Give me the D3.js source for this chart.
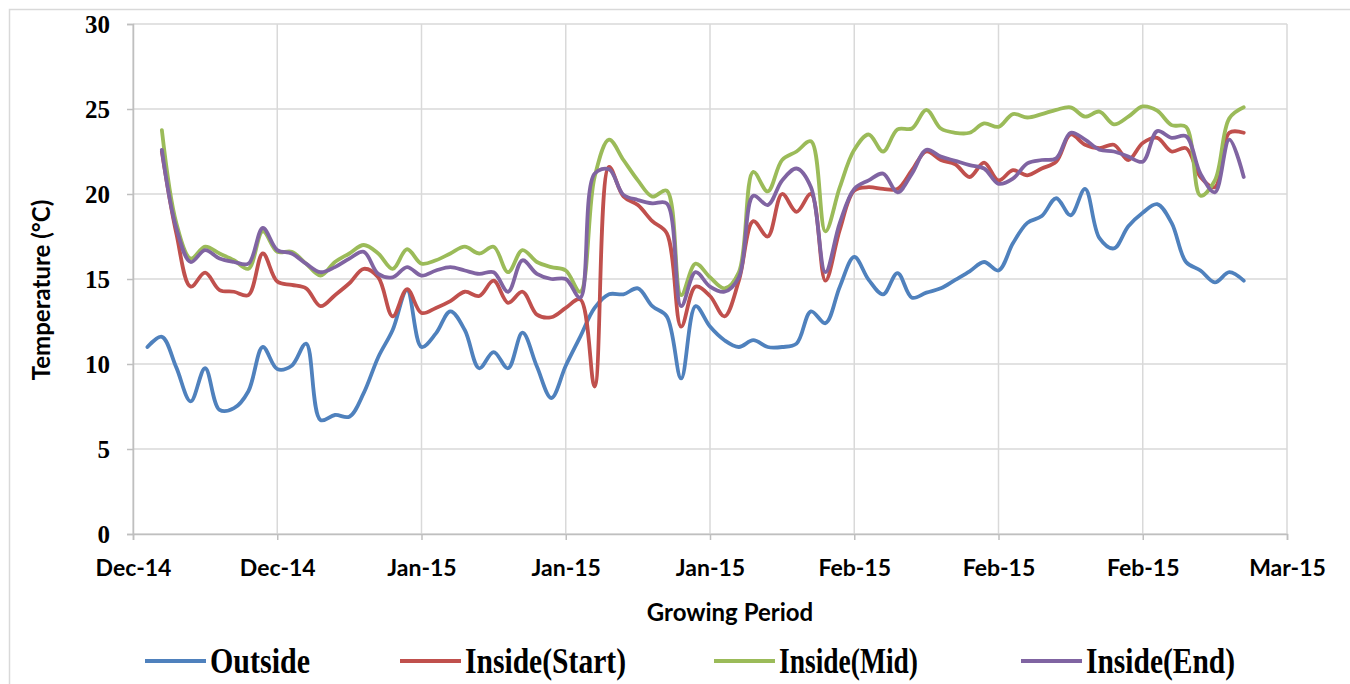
<!DOCTYPE html>
<html>
<head>
<meta charset="utf-8">
<script src="https://cdn.jsdelivr.net/npm/d3@7"></script>
<style>
  body { margin: 0; background: #fff; }
  .tickY { font-family: "Liberation Serif", serif; font-weight: bold; font-size: 25px; }
  .tickX { font-family: Lato, sans-serif; font-weight: bold; font-size: 23px; }
  .title { font-family: Lato, sans-serif; font-weight: bold; font-size: 24px; }
  .legendText { font-family: "Liberation Serif", serif; font-weight: bold; font-size: 35px; }
</style>
</head>
<body>
<svg></svg>
<script>
const w = 1350;
const h = 684;
const margin = { top: 24, right: 63, bottom: 150, left: 133 };

// one reading per day, first day is 21 Dec 2014
const startDate = new Date(2014, 11, 21);
const outside = [11.0, 11.6, 9.8, 7.8, 9.75, 7.3, 7.4, 8.4, 11.0, 9.7, 9.9, 11.2, 6.7, 7.0, 6.9, 8.3,
  10.4, 12.0, 14.35, 11.0, 11.8, 13.1, 12.0, 9.75, 10.7, 9.75, 11.84, 9.85, 8.0, 9.9, 11.6, 13.3,
  14.1, 14.1, 14.45, 13.4, 12.8, 9.15, 13.4, 12.2, 11.4, 11.0, 11.4, 11.0, 11.0, 11.2, 13.1, 12.4,
  14.55, 16.3, 14.95, 14.1, 15.35, 13.9, 14.2, 14.45, 14.95, 15.45, 16.0, 15.5, 17.1, 18.3, 18.7,
  19.75, 18.75, 20.3, 17.4, 16.8, 18.1, 18.9, 19.4, 18.3, 16.0, 15.5, 14.8, 15.4, 14.9];
const insideStart = [null, 22.5, 17.7, 14.55, 15.37, 14.35, 14.25, 14.05, 16.5, 14.85, 14.65, 14.45,
  13.4, 14.05, 14.75, 15.6, 15.1, 12.8, 14.4, 13.0, 13.3, 13.7, 14.25, 14.0, 14.9, 13.6, 14.25, 12.9,
  12.75, 13.3, 13.8, 8.67, 21.6, 19.85, 19.35, 18.4, 17.7, 12.2, 14.55, 14.0, 12.8, 14.9, 18.4, 17.5,
  20.0, 18.95, 20.0, 14.9, 17.9, 20.2, 20.4, 20.3, 20.3, 21.4, 22.5, 22.0, 21.75, 21.0, 21.85, 20.8,
  21.4, 21.1, 21.5, 21.9, 23.5, 22.9, 22.7, 22.9, 22.0, 23.0, 23.3, 22.5, 22.7, 21.0, 20.4, 23.6, 23.6];
const insideMid = [null, 23.76, 18.3, 16.2, 16.9, 16.5, 16.1, 15.6, 17.8, 16.6, 16.6, 15.9, 15.2,
  16.0, 16.5, 17.0, 16.5, 15.6, 16.75, 15.9, 16.1, 16.5, 16.9, 16.5, 16.9, 15.4, 16.7, 16.0, 15.7,
  15.5, 14.25, 21.0, 23.2, 22.0, 20.8, 19.85, 20.2, 14.05, 15.9, 15.1, 14.45, 15.4, 21.3, 20.15, 22.0,
  22.5, 23.1, 17.8, 20.4, 22.6, 23.5, 22.5, 23.8, 23.85, 24.95, 23.85, 23.6, 23.6, 24.15, 23.95, 24.7,
  24.5, 24.7, 24.95, 25.1, 24.55, 24.85, 24.1, 24.55, 25.15, 24.9, 24.05, 23.95, 19.9, 20.8, 24.45, 25.1];
const insideEnd = [null, 22.6, 18.0, 16.0, 16.7, 16.2, 16.0, 15.9, 18.0, 16.7, 16.5, 15.9, 15.4,
  15.7, 16.2, 16.6, 15.3, 15.1, 15.7, 15.2, 15.5, 15.7, 15.5, 15.3, 15.4, 14.25, 16.1, 15.3, 15.0,
  15.0, 13.9, 21.2, 21.45, 19.95, 19.65, 19.45, 19.45, 13.4, 15.4, 14.55, 14.25, 15.1, 19.9, 19.35,
  20.8, 21.5, 20.4, 15.4, 18.3, 20.3, 20.8, 21.2, 20.1, 21.2, 22.6, 22.2, 21.95, 21.7, 21.5, 20.6,
  20.9, 21.8, 22.0, 22.1, 23.6, 23.2, 22.6, 22.5, 22.2, 21.9, 23.7, 23.3, 23.4, 21.2, 20.1, 23.2, 21.0];

const seriesNames = ["Outside", "Inside(Start)", "Inside(Mid)", "Inside(End)"];
const seriesColors = ["#4f81bd", "#c0504d", "#9bbb59", "#8064a2"];
const yTicks = [0, 5, 10, 15, 20, 25, 30];
const legendWidths = [100, 161, 139, 149];

const allSeries = [outside, insideStart, insideMid, insideEnd];

const svg = d3.select("svg").attr("width", w).attr("height", h);

// chart border
svg.append("rect")
  .attr("x", 9.5).attr("y", 9.5)
  .attr("width", w).attr("height", h)
  .attr("fill", "none").attr("stroke", "#d9d9d9").attr("stroke-width", 1.5);

const xScale = d3.scaleTime()
  .domain([new Date(2014, 11, 20), new Date(2015, 2, 10)])
  .range([margin.left, w - margin.right]);

const yScale = d3.scaleLinear()
  .domain([0, 30])
  .range([h - margin.bottom, margin.top]);

const dayOf = (i) => d3.timeDay.offset(startDate, i);
const xTicks = d3.timeDay.range(xScale.domain()[0], d3.timeDay.offset(xScale.domain()[1], 1), 10);

/** gridlines */
svg.append("g")
  .selectAll("line")
  .data(yTicks)
  .enter()
  .append("line")
  .attr("x1", margin.left).attr("x2", w - margin.right)
  .attr("y1", (d) => yScale(d)).attr("y2", (d) => yScale(d))
  .attr("stroke", "#d9d9d9").attr("stroke-width", 1.5);

svg.append("g")
  .selectAll("line")
  .data(xTicks)
  .enter()
  .append("line")
  .attr("x1", (d) => xScale(d)).attr("x2", (d) => xScale(d))
  .attr("y1", margin.top).attr("y2", h - margin.bottom)
  .attr("stroke", "#d9d9d9").attr("stroke-width", 1.5);

/** axes */
const yAxis = svg.append("g")
  .attr("transform", `translate(${margin.left},0)`)
  .call(d3.axisLeft(yScale).tickValues(yTicks).tickSize(6).tickPadding(17));
yAxis.selectAll("text").attr("class", "tickY").attr("fill", "#000").attr("font-size", null).attr("font-family", null);

const xAxis = svg.append("g")
  .attr("transform", `translate(0,${h - margin.bottom})`)
  .call(d3.axisBottom(xScale).tickValues(xTicks).tickSize(6).tickPadding(20)
    .tickFormat(d3.timeFormat("%b-%y")));
xAxis.selectAll("text").attr("class", "tickX").attr("fill", "#000").attr("font-size", null).attr("font-family", null);

svg.selectAll(".domain, .tick line").attr("stroke", "#bfbfbf").attr("stroke-width", 1.5);

/** titles */
svg.append("text")
  .attr("class", "title")
  .attr("transform", "translate(50,290) rotate(-90)")
  .attr("text-anchor", "middle")
  .text("Temperature (°C)");

svg.append("text")
  .attr("class", "title")
  .attr("x", 730).attr("y", 621)
  .attr("text-anchor", "middle")
  .text("Growing Period");

/** lines */
const line = d3.line()
  .defined((d) => d != null)
  .x((d, i) => xScale(dayOf(i)))
  .y((d) => yScale(d))
  .curve(d3.curveCatmullRom.alpha(0.5));

svg.append("g")
  .selectAll("path")
  .data(allSeries)
  .enter()
  .append("path")
  .attr("d", line)
  .attr("fill", "none")
  .attr("stroke", (d, i) => seriesColors[i])
  .attr("stroke-width", 3.8)
  .attr("stroke-linejoin", "round")
  .attr("stroke-linecap", "round");

/** legend */
const legendX = [145, 400, 714, 1021];
const legend = svg.append("g")
  .selectAll("g")
  .data(seriesNames)
  .enter()
  .append("g")
  .attr("transform", (d, i) => `translate(${legendX[i]},661)`);

legend.append("line")
  .attr("x1", 0).attr("x2", 61)
  .attr("stroke", (d, i) => seriesColors[i])
  .attr("stroke-width", 4);

legend.append("text")
  .attr("class", "legendText")
  .attr("x", 65).attr("y", 12)
  .attr("textLength", (d, i) => legendWidths[i])
  .attr("lengthAdjust", "spacingAndGlyphs")
  .text((d) => d);
</script>
</body>
</html>
